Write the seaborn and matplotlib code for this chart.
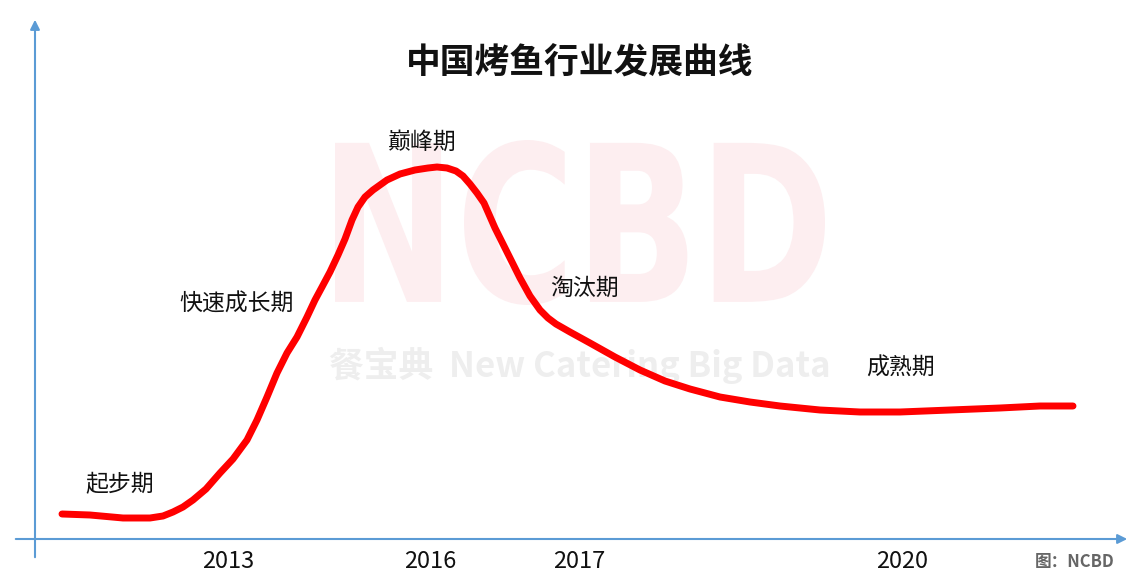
import numpy as np
import pandas as pd
import matplotlib
matplotlib.use('Agg')
import matplotlib.pyplot as plt
import seaborn as sns
from matplotlib.textpath import TextPath
from matplotlib.font_manager import FontProperties
from matplotlib.patches import PathPatch
from matplotlib.transforms import Affine2D

# ---- data (x: position along time axis, y: height above axis) ----
curve_x = [62, 90, 123, 150, 163, 173, 183, 193, 206, 220, 233, 247, 257, 267, 277,
           287, 297, 307, 315, 322, 330, 338, 345, 352, 358, 365, 373, 387,
           400, 415, 428, 437, 447, 456, 463, 470, 477, 484, 495, 510, 520, 530, 540,
           548, 556, 570, 590, 615, 640, 665, 690, 720, 750, 780, 820, 860, 900, 950,
           1000, 1040, 1073]
curve_y = [25, 24, 21, 21, 23, 27, 32, 39, 50, 66, 80, 99, 119, 142, 166,
           186, 202, 222, 239, 252, 267, 284, 300, 319, 332, 342, 349, 359,
           365, 369, 371, 372, 371, 368, 363, 355, 346, 336, 311, 281, 261, 243, 229,
           221, 215, 207, 196, 182, 169, 158, 150, 142, 137, 133, 129, 127, 127, 129,
           131, 133, 133]

stage_names = ['起步期', '快速成长期', '巅峰期', '淘汰期', '成熟期']
stage_x = [120, 237, 422, 584, 900]
stage_y = [54, 235, 397, 251, 171]

year_labels = ['2013', '2016', '2017', '2020']
year_x = [228, 430, 579, 902]

df = pd.DataFrame({'x': curve_x, 'y': curve_y})

sns.set_theme(style='white')
plt.rcParams['font.family'] = ['Noto Sans CJK SC', 'DejaVu Sans']

fig = plt.figure(figsize=(11.4, 5.83), dpi=100)
ax = fig.add_axes([0, 0, 1, 1])
ax.set_xlim(0, 1140)
ax.set_ylim(-44, 539)
ax.axis('off')

# watermark "NCBD" stretched into its box
tp = TextPath((0, 0), 'NCBD', size=1, prop=FontProperties(family='DejaVu Sans', weight='bold'))
ext = tp.get_extents()
x0, x1, y0, y1 = 335, 825, 234, 399
tr = (Affine2D().translate(-ext.x0, -ext.y0)
      .scale((x1 - x0) / ext.width, (y1 - y0) / ext.height)
      .translate(x0, y0))
ax.add_patch(PathPatch(tr.transform_path(tp), facecolor='#fdeef0', edgecolor='none', zorder=0))
ax.text(580, 174, '餐宝典  New Catering Big Data', ha='center', va='center', fontsize=25,
        fontweight='bold', color='#eeeeee', zorder=0)

# axes with arrows
axis_color = '#5b9bd5'
ax.annotate('', xy=(1130, 0), xytext=(13, 0),
            arrowprops=dict(arrowstyle='-|>', color=axis_color, lw=1.5, mutation_scale=14))
ax.annotate('', xy=(35, 522), xytext=(35, -21),
            arrowprops=dict(arrowstyle='-|>', color=axis_color, lw=1.5, mutation_scale=14))

# curve
sns.lineplot(data=df, x='x', y='y', ax=ax, color='#ff0000', linewidth=5, sort=False,
             solid_capstyle='round', solid_joinstyle='round', zorder=3)
ax.set_xlabel('')
ax.set_ylabel('')

for name, x, y in zip(stage_names, stage_x, stage_y):
    ax.text(x, y, name, ha='center', va='center', fontsize=16.5, color='#111111')

for lab, x in zip(year_labels, year_x):
    ax.text(x, -23, lab, ha='center', va='center', fontsize=17, color='#111111')

ax.text(580, 476, '中国烤鱼行业发展曲线', ha='center', va='center', fontsize=25,
        fontweight='bold', color='#111111')
ax.text(1075, -23, '图：NCBD', ha='center', va='center', fontsize=12,
        fontweight='bold', color='#666666')

fig.savefig('out.png', dpi=100)
